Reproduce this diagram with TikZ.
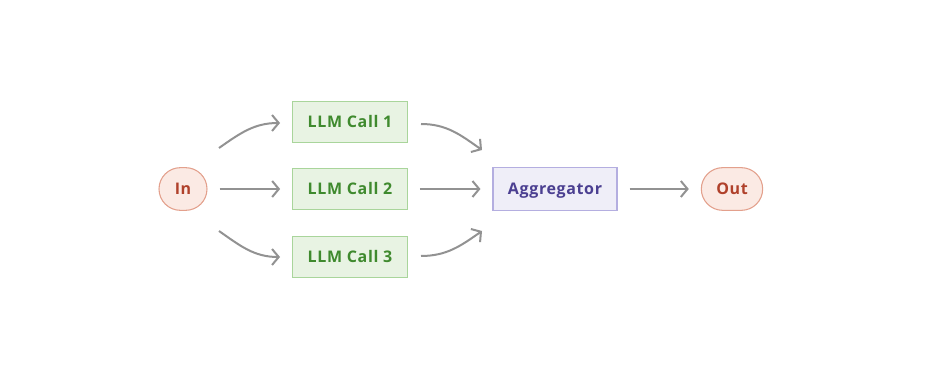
\documentclass[tikz,border=0pt]{standalone}
\usepackage{fontspec}
\setmainfont{Open Sans}[LetterSpace=4]
\usetikzlibrary{arrows.meta}
\definecolor{llmfill}{HTML}{E8F3E3}
\definecolor{llmdraw}{HTML}{A9D59B}
\definecolor{llmtext}{HTML}{3F8A2E}
\definecolor{agfill}{HTML}{EFEEF8}
\definecolor{agdraw}{HTML}{B4AEE0}
\definecolor{agtext}{HTML}{4B3F91}
\definecolor{iofill}{HTML}{FBEAE4}
\definecolor{iodraw}{HTML}{E3A08C}
\definecolor{iotext}{HTML}{B0412B}
\definecolor{arrowgray}{HTML}{929292}
\begin{document}
\begin{tikzpicture}[x=0.75pt,y=-0.75pt,
  base/.style={font=\fontsize{12}{14}\selectfont\bfseries, line width=0.8pt, inner sep=0pt, text height=8.6pt, text depth=0pt},
  llm/.style={base, draw=llmdraw, fill=llmfill, text=llmtext, minimum width=86pt, minimum height=31pt},
  agg/.style={base, draw=agdraw, fill=agfill, text=agtext, minimum width=93pt, minimum height=32pt},
  io/.style={base, draw=iodraw, fill=iofill, text=iotext, rounded corners=16pt, minimum height=32pt},
  conn/.style={draw=arrowgray, line width=1.5pt, -{Straight Barb[length=5pt,width=12pt,line width=1.5pt]}},
  gap/.style={shorten <=9pt, shorten >=9pt}]
\useasboundingbox (0,0) rectangle (934,384);
\node[io, minimum width=36pt] (in) at (183,189) {In};
\node[llm] (l1) at (350,122) {LLM Call 1};
\node[llm] (l2) at (350,189) {LLM Call 2};
\node[llm] (l3) at (350,257) {LLM Call 3};
\node[agg] (agg) at (555,189) {Aggregator};
\node[io, minimum width=46pt] (out) at (732,189) {Out};
\coordinate (a1s) at (219,148);
\coordinate (a1e) at (280,123);
\coordinate (a3s) at (219,231);
\coordinate (a3e) at (280,257);
\coordinate (b1s) at (421,124);
\coordinate (b1e) at (482,150);
\coordinate (b3s) at (421,256);
\coordinate (b3e) at (482,231);
\draw[conn, gap] (in) -- (l2);
\draw[conn] (a1s) to[out=35,in=180] (a1e);
\draw[conn] (a3s) to[out=-35,in=180] (a3e);
\draw[conn, gap] (l2) -- (agg);
\draw[conn] (b1s) to[out=0,in=145] (b1e);
\draw[conn] (b3s) to[out=0,in=215] (b3e);
\draw[conn, gap] (agg) -- (out);
\end{tikzpicture}
\end{document}
